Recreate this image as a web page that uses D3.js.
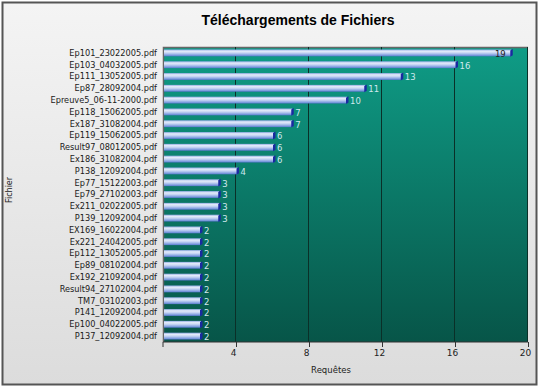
<!DOCTYPE html>
<html><head><meta charset="utf-8">
<script src="https://cdn.jsdelivr.net/npm/d3@7"></script>
<style>body{margin:0;background:#fff}svg{display:block}</style>
</head><body><svg id="c" width="539" height="387"></svg>
<script>
const files = ["Ep101_23022005.pdf","Ep103_04032005.pdf","Ep111_13052005.pdf","Ep87_28092004.pdf","Epreuve5_06-11-2000.pdf","Ep118_15062005.pdf","Ex187_31082004.pdf","Ep119_15062005.pdf","Result97_08012005.pdf","Ex186_31082004.pdf","P138_12092004.pdf","Ep77_15122003.pdf","Ep79_27102003.pdf","Ex211_02022005.pdf","P139_12092004.pdf","EX169_16022004.pdf","Ex221_24042005.pdf","Ep112_13052005.pdf","Ep89_08102004.pdf","Ex192_21092004.pdf","Result94_27102004.pdf","TM7_03102003.pdf","P141_12092004.pdf","Ep100_04022005.pdf","P137_12092004.pdf"];
const requetes = [19,16,13,11,10,7,7,6,6,6,4,3,3,3,3,2,2,2,2,2,2,2,2,2,2];
const xTicks = [4,8,12,16,20];
const titre = "Téléchargements de Fichiers";
const xTitre = "Requêtes";
const yTitre = "Fichier";

const svg = d3.select("#c");
const W = 539, H = 387;
const m = {l:163, r:11, t:47, b:45};
const defs = svg.append("defs");
const bg = defs.append("linearGradient").attr("id","bg").attr("x1",0).attr("x2",0).attr("y1",0).attr("y2",1);
bg.append("stop").attr("offset","0%").attr("stop-color","#f4f4f4");
bg.append("stop").attr("offset","100%").attr("stop-color","#dcdcdc");
const pg = defs.append("linearGradient").attr("id","pg").attr("x1",0).attr("x2",0).attr("y1",0).attr("y2",1);
pg.append("stop").attr("offset","0%").attr("stop-color","#0f9c86");
pg.append("stop").attr("offset","100%").attr("stop-color","#075548");
const bgr = defs.append("linearGradient").attr("id","bar").attr("x1",0).attr("x2",0).attr("y1",0).attr("y2",1);
[["0%","#8fa9e2"],["25%","#e4ecfa"],["50%","#c6d5f3"],["85%","#7b9ade"],["100%","#5675c8"]].forEach(s=>bgr.append("stop").attr("offset",s[0]).attr("stop-color",s[1]));

svg.append("rect").attr("x",2.5).attr("y",2.5).attr("width",W-5).attr("height",H-5)
  .attr("fill","url(#bg)").attr("stroke","#555").attr("stroke-width",2);

const x = d3.scaleLinear().domain([0,20]).range([m.l, W-m.r]);
const y = d3.scaleBand().domain(files).range([m.t, H-m.b]).paddingInner(0.42).paddingOuter(0.21);

svg.append("rect").attr("x",x(0)).attr("y",m.t).attr("width",x(20)-x(0)).attr("height",H-m.b-m.t)
  .attr("fill","url(#pg)");
svg.append("path").attr("d",`M${x(0)+0.5},${H-m.b}V${m.t+0.5}H${x(20)}`).attr("fill","none").attr("stroke","#666").attr("stroke-width",1.5);

svg.selectAll("line.g").data(xTicks).join("line").attr("class","g")
  .attr("x1",d=>Math.round(x(d))-0.5).attr("x2",d=>Math.round(x(d))-0.5)
  .attr("y1",m.t).attr("y2",H-m.b).attr("stroke","#0a3028").attr("stroke-width",1);

const xa = svg.append("g").attr("transform",`translate(0,${H-m.b})`)
  .call(d3.axisBottom(x).tickValues(xTicks).tickSize(5).tickPadding(3));
xa.select(".domain").attr("stroke","#333").attr("d",`M${x(0)},5V0H${x(20)}`);
xa.selectAll(".tick line").attr("stroke","#333");
xa.selectAll(".tick text").attr("font-family","DejaVu Sans, sans-serif").attr("font-size",9).attr("fill","#222").attr("dx",-3);

svg.append("g").selectAll("text").data(files).join("text")
  .attr("x",x(0)-6).attr("y",d=>y(d)+y.bandwidth()/2).attr("dy","0.35em")
  .attr("text-anchor","end").attr("font-family","DejaVu Sans, sans-serif").attr("font-size",8.2).attr("fill","#1a1a1a")
  .text(d=>d);

const bars = svg.append("g").selectAll("g").data(files.map((f,i)=>({f,v:requetes[i]}))).join("g");
bars.append("rect").attr("x",x(0)+1).attr("y",d=>y(d.f)).attr("width",d=>x(d.v)-x(0)+0.5).attr("height",y.bandwidth())
  .attr("fill","url(#bar)");
bars.append("path").attr("d",d=>{const xe=x(d.v)+0.5, yt=y(d.f)-0.5, h=y.bandwidth()+1; return `M${xe},${yt+1.5}L${xe+2.5},${yt}L${xe+2.5},${yt+h-1.5}L${xe},${yt+h}Z`;})
  .attr("fill","#1a2aa0");
bars.append("text")
  .attr("x",d=>d.v>=19 ? x(d.v)-4 : x(d.v)+4.5)
  .attr("y",d=>y(d.f)+y.bandwidth()/2+1).attr("dy","0.35em")
  .attr("text-anchor",d=>d.v>=19?"end":"start")
  .attr("font-family","DejaVu Sans, sans-serif").attr("font-size",8.5)
  .attr("fill",d=>d.v>=19?"#222":"#cfe9ef")
  .text(d=>d.v);

svg.append("text").attr("x",298).attr("y",25).attr("text-anchor","middle")
  .attr("font-family","Liberation Sans, Arial, sans-serif").attr("font-weight","bold").attr("font-size",14).attr("fill","#000").text(titre);
svg.append("text").attr("x",331).attr("y",373).attr("text-anchor","middle")
  .attr("font-family","DejaVu Sans, sans-serif").attr("font-size",8.5).attr("fill","#222").text(xTitre);
svg.append("text").attr("transform","translate(12,190) rotate(-90)").attr("text-anchor","middle")
  .attr("font-family","DejaVu Sans, sans-serif").attr("font-size",8).attr("fill","#222").text(yTitre);
</script></body></html>
